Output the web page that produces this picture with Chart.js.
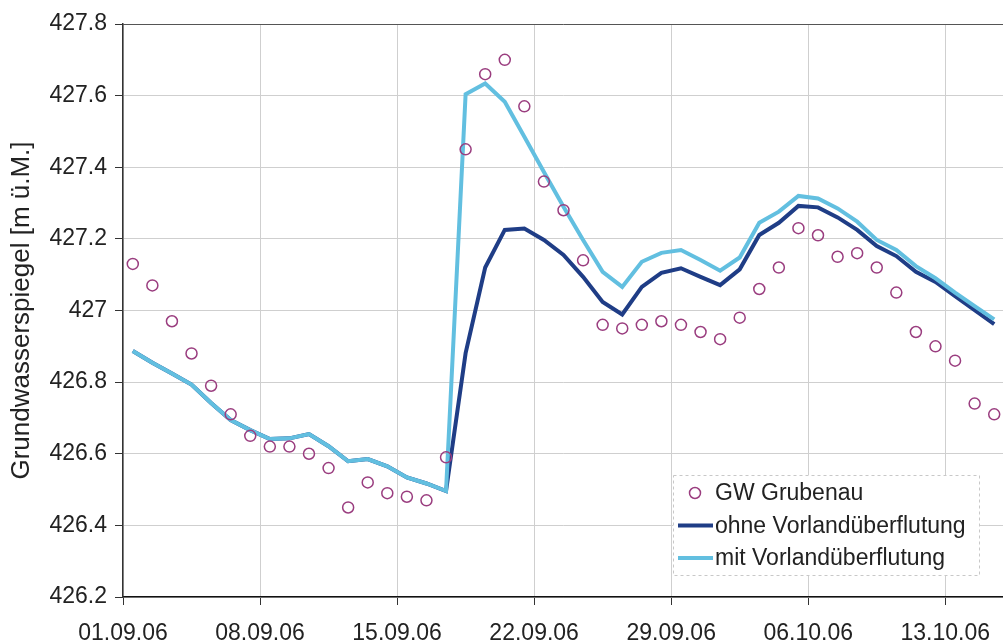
<!DOCTYPE html>
<html>
<head>
<meta charset="utf-8">
<script src="https://cdn.jsdelivr.net/npm/chart.js@4.4.1/dist/chart.umd.min.js"></script>
<style>
    html, body { margin: 0; padding: 0; background: #fff; overflow: hidden; }
    #wrap { width: 1011px; height: 641px; }
</style>
</head>
<body>
<div id="wrap"><canvas id="graficoGW"></canvas></div>
<script>
// Tageswerte ab 01.09.06, jeweils in der Tagesmitte dargestellt
const gwGrubenau = [
    427.13, 427.07, 426.97, 426.88, 426.79, 426.71, 426.65, 426.62, 426.62, 426.60,
    426.56, 426.45, 426.52, 426.49, 426.48, 426.47, 426.59, 427.45, 427.66, 427.70,
    427.57, 427.36, 427.28, 427.14, 426.96, 426.95, 426.96, 426.97, 426.96, 426.94,
    426.92, 426.98, 427.06, 427.12, 427.23, 427.21, 427.15, 427.16, 427.12, 427.05,
    426.94, 426.90, 426.86, 426.74, 426.71
];
const ohneVorland = [
    426.887, 426.854, 426.824, 426.793, 426.742, 426.694, 426.666, 426.641, 426.643, 426.655,
    426.621, 426.579, 426.585, 426.565, 426.534, 426.517, 426.496, 426.881, 427.120, 427.225,
    427.229, 427.197, 427.155, 427.094, 427.024, 426.989, 427.066, 427.105, 427.118, 427.094,
    427.071, 427.115, 427.211, 427.245, 427.292, 427.288, 427.260, 427.225, 427.180, 427.152,
    427.108, 427.080, 427.040, 427.001, 426.962
];
const mitVorland = [
    426.887, 426.854, 426.824, 426.793, 426.742, 426.694, 426.666, 426.641, 426.643, 426.655,
    426.621, 426.579, 426.585, 426.565, 426.534, 426.517, 426.496, 427.604, 427.634, 427.583,
    427.485, 427.387, 427.290, 427.197, 427.108, 427.066, 427.136, 427.161, 427.169, 427.141,
    427.111, 427.148, 427.245, 427.276, 427.320, 427.313, 427.285, 427.248, 427.197, 427.169,
    427.124, 427.090, 427.050, 427.012, 426.975
];
const startDatum = [2006, 8, 1]; // 01.09.06
const tageMax = 45;
const tickTage = 7;

const schrift = "'Liberation Sans', Arial, sans-serif";
Chart.defaults.font.family = schrift;
Chart.defaults.color = '#222';

const punkte = (werte) => werte.map((v, i) => ({ x: i + 0.5, y: v }));

function datumLabel(tag) {
    const d = new Date(startDatum[0], startDatum[1], startDatum[2] + tag);
    const zz = (n) => String(n).padStart(2, '0');
    return zz(d.getDate()) + '.' + zz(d.getMonth() + 1) + '.' + zz(d.getFullYear() % 100);
}

// Rahmen oben/rechts wie im Excel-Diagramm
const rahmenPlugin = {
    id: 'rahmen',
    beforeDatasetsDraw(chart) {
        const { ctx, chartArea: a } = chart;
        ctx.save();
        ctx.lineWidth = 1;
        ctx.strokeStyle = '#cfcfcf';
        ctx.beginPath();
        ctx.moveTo(a.right - 0.5, a.top);
        ctx.lineTo(a.right - 0.5, a.bottom);
        ctx.stroke();
        ctx.strokeStyle = '#555';
        ctx.beginPath();
        ctx.moveTo(a.left, a.top + 0.5);
        ctx.lineTo(a.right, a.top + 0.5);
        ctx.stroke();
        ctx.restore();
    }
};

// Legende innerhalb der Zeichenfläche, unten rechts
const legendePlugin = {
    id: 'legendeInnen',
    afterDraw(chart) {
        const { ctx, chartArea: a } = chart;
        const w = 306, h = 100;
        const x0 = 673, y0 = a.bottom - 22 - h;
        ctx.save();
        ctx.fillStyle = '#fff';
        ctx.fillRect(x0, y0, w, h);
        ctx.setLineDash([3, 3]);
        ctx.strokeStyle = '#c8c8c8';
        ctx.lineWidth = 1;
        ctx.strokeRect(x0 + 0.5, y0 + 0.5, w, h);
        ctx.setLineDash([]);
        ctx.font = '23px ' + schrift;
        ctx.textBaseline = 'middle';
        ctx.fillStyle = '#222';
        chart.data.datasets.forEach((ds, i) => {
            const y = y0 + 18 + i * 32.5;
            if (ds.showLine === false) {
                ctx.strokeStyle = ds.pointBorderColor;
                ctx.lineWidth = ds.pointBorderWidth;
                ctx.beginPath();
                ctx.arc(x0 + 22, y, ds.pointRadius, 0, Math.PI * 2);
                ctx.stroke();
            } else {
                ctx.strokeStyle = ds.borderColor;
                ctx.lineWidth = ds.borderWidth;
                ctx.beginPath();
                ctx.moveTo(x0 + 5, y);
                ctx.lineTo(x0 + 40, y);
                ctx.stroke();
            }
            ctx.fillStyle = '#222';
            ctx.fillText(ds.label, x0 + 42, y + 1);
        });
        ctx.restore();
    }
};

const ctxGW = document.getElementById('graficoGW');
new Chart(ctxGW, {
    type: 'line',
    data: {
        datasets: [
            {
                label: 'GW Grubenau',
                data: punkte(gwGrubenau),
                showLine: false,
                pointStyle: 'circle',
                pointRadius: 5.5,
                pointBorderWidth: 1.5,
                pointBorderColor: '#9a3d7f',
                pointBackgroundColor: 'rgba(255,255,255,0)',
                order: 0
            },
            {
                label: 'ohne Vorlandüberflutung',
                data: punkte(ohneVorland),
                borderColor: '#1f3d86',
                borderWidth: 4,
                pointRadius: 0,
                tension: 0,
                order: 2
            },
            {
                label: 'mit Vorlandüberflutung',
                data: punkte(mitVorland),
                borderColor: '#62bfe0',
                borderWidth: 4,
                pointRadius: 0,
                tension: 0,
                order: 1
            }
        ]
    },
    options: {
        responsive: true,
        maintainAspectRatio: false,
        animation: false,
        layout: { padding: { top: 24, right: 0, bottom: 0, left: 0 } },
        plugins: {
            legend: { display: false },
            tooltip: { enabled: false },
            title: { display: false }
        },
        scales: {
            x: {
                type: 'linear',
                min: 0,
                max: tageMax,
                afterFit: (s) => { s.height = 44; },
                ticks: {
                    stepSize: tickTage,
                    includeBounds: false,
                    autoSkip: false,
                    maxRotation: 0,
                    padding: 15,
                    font: { size: 23 },
                    color: '#222',
                    callback: (v) => datumLabel(v)
                },
                grid: { color: '#cfcfcf', tickColor: '#333', tickLength: 8 },
                border: { color: '#111', width: 1.5 }
            },
            y: {
                min: 426.2,
                max: 427.8,
                afterFit: (s) => { s.width = 123; },
                ticks: {
                    stepSize: 0.2,
                    padding: 8,
                    font: { size: 23 },
                    color: '#222',
                    callback: (v) => String(parseFloat(Number(v).toFixed(1)))
                },
                grid: { color: '#cfcfcf', tickColor: '#333', tickLength: 8 },
                border: { color: '#333', width: 1.5 },
                title: {
                    display: true,
                    text: 'Grundwasserspiegel [m ü.M.]',
                    font: { size: 26 },
                    color: '#222',
                    padding: { top: 6, bottom: 0 }
                }
            }
        }
    },
    plugins: [rahmenPlugin, legendePlugin]
});
</script>
</body>
</html>
